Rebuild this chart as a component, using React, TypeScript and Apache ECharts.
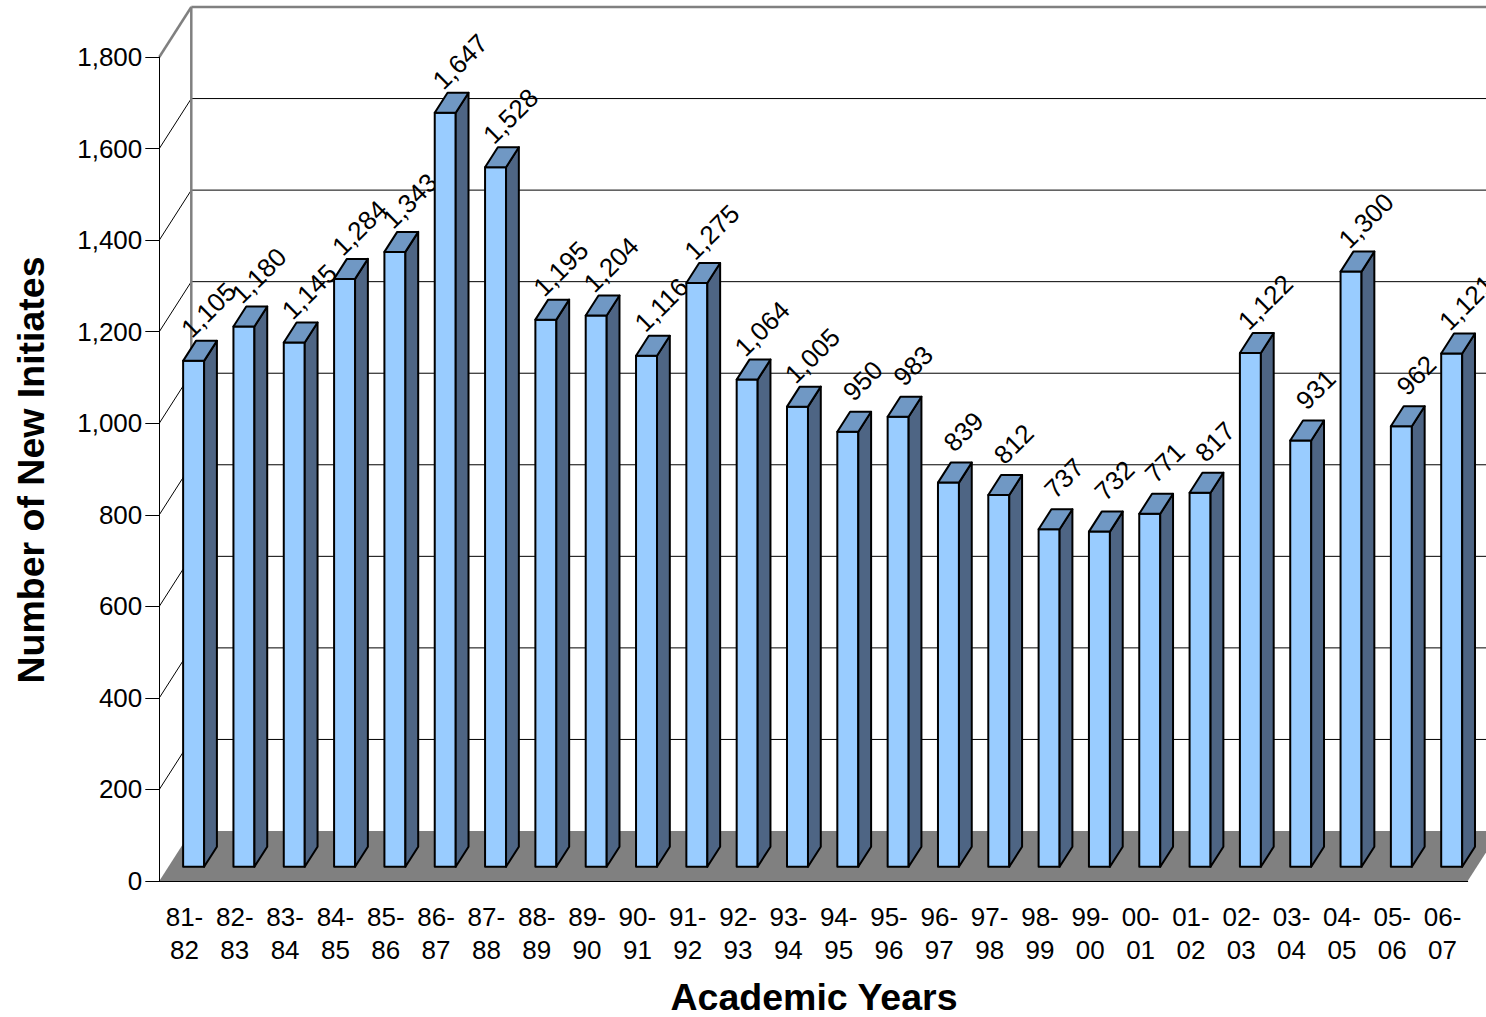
import React, { useEffect, useRef } from 'react';
import * as echarts from 'echarts';

const categories = ['81-82', '82-83', '83-84', '84-85', '85-86', '86-87', '87-88', '88-89', '89-90', '90-91', '91-92', '92-93', '93-94', '94-95', '95-96', '96-97', '97-98', '98-99', '99-00', '00-01', '01-02', '02-03', '03-04', '04-05', '05-06', '06-07'];
const initiates = [1105, 1180, 1145, 1284, 1343, 1647, 1528, 1195, 1204, 1116, 1275, 1064, 1005, 950, 983, 839, 812, 737, 732, 771, 817, 1122, 931, 1300, 962, 1121];
const yTicks = [0, 200, 400, 600, 800, 1000, 1200, 1400, 1600, 1800];
const yTitle = 'Number of New Initiates';
const xTitle = 'Academic Years';

const DX = 32;
const DY = -50;
const FRONT = 0.286;
const DEPTH = 0.4;
const BAR_W = 0.417;
const FONT = '"Liberation Sans", Arial, sans-serif';
const LABEL_FS = 26;
const TICK_FS = 26;
const TITLE_FONT = 'bold 37.5px "Liberation Sans", Arial, sans-serif';

const fmt = (v: number) => v.toLocaleString('en-US');

export default function App() {
  const ref = useRef<HTMLDivElement>(null);
  useEffect(() => {
    const chart = echarts.init(ref.current as HTMLDivElement, null, { renderer: 'svg' });
    const option: any = {
      animation: false,
      grid: { left: 159.3, top: 57, width: 1308.4, height: 824 },
      xAxis: {
        type: 'category',
        data: categories,
        z: 5,
        axisLine: { lineStyle: { color: '#000', width: 1 } },
        axisTick: { length: 15, lineStyle: { color: '#000' } },
        axisLabel: {
          interval: 0,
          fontSize: TICK_FS,
          lineHeight: 33,
          color: '#000',
          fontFamily: FONT,
          margin: 19,
          formatter: (c: string) => c.replace('-', '-\n'),
        },
        splitLine: { show: false },
      },
      yAxis: {
        type: 'value',
        min: 0,
        max: 1800,
        interval: 200,
        z: 5,
        axisLine: { show: true, lineStyle: { color: '#000' } },
        axisTick: { show: true, length: 14, lineStyle: { color: '#000' } },
        axisLabel: { fontSize: TICK_FS, color: '#000', fontFamily: FONT, margin: 17, formatter: fmt },
        splitLine: { show: false },
      },
      graphic: [
        {
          type: 'text',
          x: 31,
          y: 470,
          rotation: Math.PI / 2,
          style: {
            text: yTitle,
            font: TITLE_FONT,
            fill: '#000',
            textAlign: 'center',
            textVerticalAlign: 'middle',
          },
        },
        {
          type: 'text',
          x: 814,
          y: 997,
          style: {
            text: xTitle,
            font: TITLE_FONT,
            fill: '#000',
            textAlign: 'center',
            textVerticalAlign: 'middle',
          },
        },
      ],
      series: [
        {
          type: 'custom',
          z: 1,
          silent: true,
          data: [[0, 0]],
          encode: { x: 0, y: 1 },
          renderItem: (params: any, api: any) => {
            const cs = params.coordSys;
            const x0 = cs.x;
            const x1 = cs.x + cs.width;
            const y0 = api.coord([0, 0])[1];
            const yTop = api.coord([0, yTicks[yTicks.length - 1]])[1];
            const children: any[] = [];
            children.push({
              type: 'polygon',
              shape: { points: [[x0, y0], [x1, y0], [x1 + DX, y0 + DY], [x0 + DX, y0 + DY]] },
              style: { fill: '#808080', stroke: 'none' },
            });
            yTicks.forEach((t, k) => {
              if (t === 0) return;
              const y = api.coord([0, t])[1];
              const isTop = k === yTicks.length - 1;
              const st = { stroke: isTop ? '#808080' : '#000', lineWidth: isTop ? 2.5 : 1 };
              children.push({ type: 'line', shape: { x1: x0 + DX, y1: y + DY, x2: x1 + DX + 40, y2: y + DY }, style: st });
              children.push({ type: 'line', shape: { x1: x0, y1: y, x2: x0 + DX, y2: y + DY }, style: st });
            });
            children.push({
              type: 'line',
              shape: { x1: x0 + DX, y1: y0 + DY, x2: x0 + DX, y2: yTop + DY },
              style: { stroke: '#808080', lineWidth: 2.5 },
            });
            return { type: 'group', children };
          },
        },
        {
          type: 'custom',
          z: 2,
          data: initiates.map((v, i) => [i, v]),
          encode: { x: 0, y: 1 },
          renderItem: (params: any, api: any) => {
            const i = api.value(0);
            const v = api.value(1);
            const base = api.coord([i, 0]);
            const top = api.coord([i, v]);
            const band = api.size([1, 0])[0];
            const w = band * BAR_W;
            const fx = FRONT * DX;
            const fy = FRONT * DY;
            const bx = DEPTH * DX;
            const by = DEPTH * DY;
            const L = base[0] - w / 2 + fx;
            const R = L + w;
            const B = base[1] + fy;
            const T = top[1] + fy;
            const edge = { stroke: '#000', lineWidth: 2, lineJoin: 'round' };
            return {
              type: 'group',
              children: [
                { type: 'polygon', shape: { points: [[L, T], [R, T], [R, B], [L, B]] }, style: { fill: '#99CCFF', ...edge } },
                { type: 'polygon', shape: { points: [[R, T], [R + bx, T + by], [R + bx, B + by], [R, B]] }, style: { fill: '#4E6584', ...edge } },
                { type: 'polygon', shape: { points: [[L, T], [L + bx, T + by], [R + bx, T + by], [R, T]] }, style: { fill: '#7098C4', ...edge } },
                {
                  type: 'text',
                  x: (L + R) / 2 + 15,
                  y: T + by - 31,
                  rotation: Math.PI / 4,
                  style: {
                    text: fmt(v),
                    font: `${LABEL_FS}px "Liberation Sans", Arial, sans-serif`,
                    fill: '#000',
                    textAlign: 'center',
                    textVerticalAlign: 'middle',
                  },
                },
              ],
            };
          },
        },
      ],
    };
    chart.setOption(option);
    return () => chart.dispose();
  }, []);
  return (
    <div
      ref={ref}
      style={{ position: 'fixed', left: 0, top: 0, width: 1486, height: 1017, background: '#fff' }}
    />
  );
}
